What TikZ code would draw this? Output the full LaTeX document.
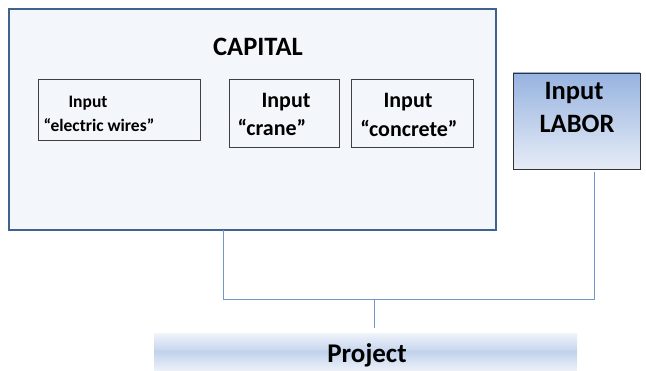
\documentclass[tikz,border=0pt]{standalone}
\usepackage{fontspec}
\setmainfont{Carlito}
\definecolor{capfill}{HTML}{F3F6FB}
\definecolor{capline}{HTML}{41628E}
\definecolor{conn}{HTML}{7397CB}
\definecolor{labtop}{HTML}{97B3E0}
\definecolor{labbot}{HTML}{E6ECF6}
\definecolor{projmid}{HTML}{C3D3EC}
\definecolor{projedge}{HTML}{EEF2FA}
\begin{document}
\begin{tikzpicture}[x=1pt,y=-1pt,
  inbox/.style={draw=black!75,line width=0.8pt},
  lbl/.style={inner sep=0pt,anchor=base,font=\bfseries},
  wire/.style={draw=conn,line width=0.9pt}]
\useasboundingbox (0,0) rectangle (646,371);
% capital box
\draw[fill=capfill,draw=capline,line width=1.6pt] (9,9) rectangle (496,230);
\node[lbl,font=\fontsize{26.5}{30}\selectfont\bfseries] (capital) at (258,56) {CAPITAL};
% inner boxes
\draw[inbox,fill=capfill] (38,79) rectangle (200,140);
\node[lbl,font=\fontsize{17.5}{20}\selectfont\bfseries] (ew1) at (88,108) {Input};
\node[lbl,font=\fontsize{17.5}{20}\selectfont\bfseries] (ew2) at (99,132) {“electric wires”};
\draw[inbox,fill=capfill] (229,79) rectangle (339,147);
\node[lbl,font=\fontsize{22}{24}\selectfont\bfseries] (cr1) at (286,108) {Input};
\node[lbl,font=\fontsize{22}{24}\selectfont\bfseries] (cr2) at (272,136) {“crane”};
\draw[inbox,fill=capfill] (351,79) rectangle (473,147);
\node[lbl,font=\fontsize{22}{24}\selectfont\bfseries] (co1) at (408,108) {Input};
\node[lbl,font=\fontsize{22}{24}\selectfont\bfseries] (co2) at (409,137) {“concrete”};
% labor box
\shade[top color=labtop,bottom color=labbot] (513,73) rectangle (640,169);
\draw[draw=black!80,line width=0.8pt] (513,73) rectangle (640,169);
\node[lbl,font=\fontsize{26.5}{30}\selectfont\bfseries] (lab1) at (574,100) {Input};
\node[lbl,font=\fontsize{26.5}{30}\selectfont\bfseries] (lab2) at (577,133) {LABOR};
% project bar
\shade[top color=projedge,bottom color=projmid] (154,334) rectangle (577,352);
\shade[top color=projmid,bottom color=projedge] (154,352) rectangle (577,371);
\node[lbl,font=\fontsize{27}{30}\selectfont\bfseries] (proj) at (367,363) {Project};
% connectors
\coordinate (capout) at (223,230);
\coordinate (labout) at (594,172);
\coordinate (jl) at (223,299);
\coordinate (jr) at (594,299);
\coordinate (jm) at (374,299);
\coordinate (projin) at (374,328);
\draw[wire] (capout) -- (jl) -- (jr) -- (labout);
\draw[wire] (jm) -- (projin);
\end{tikzpicture}
\end{document}
